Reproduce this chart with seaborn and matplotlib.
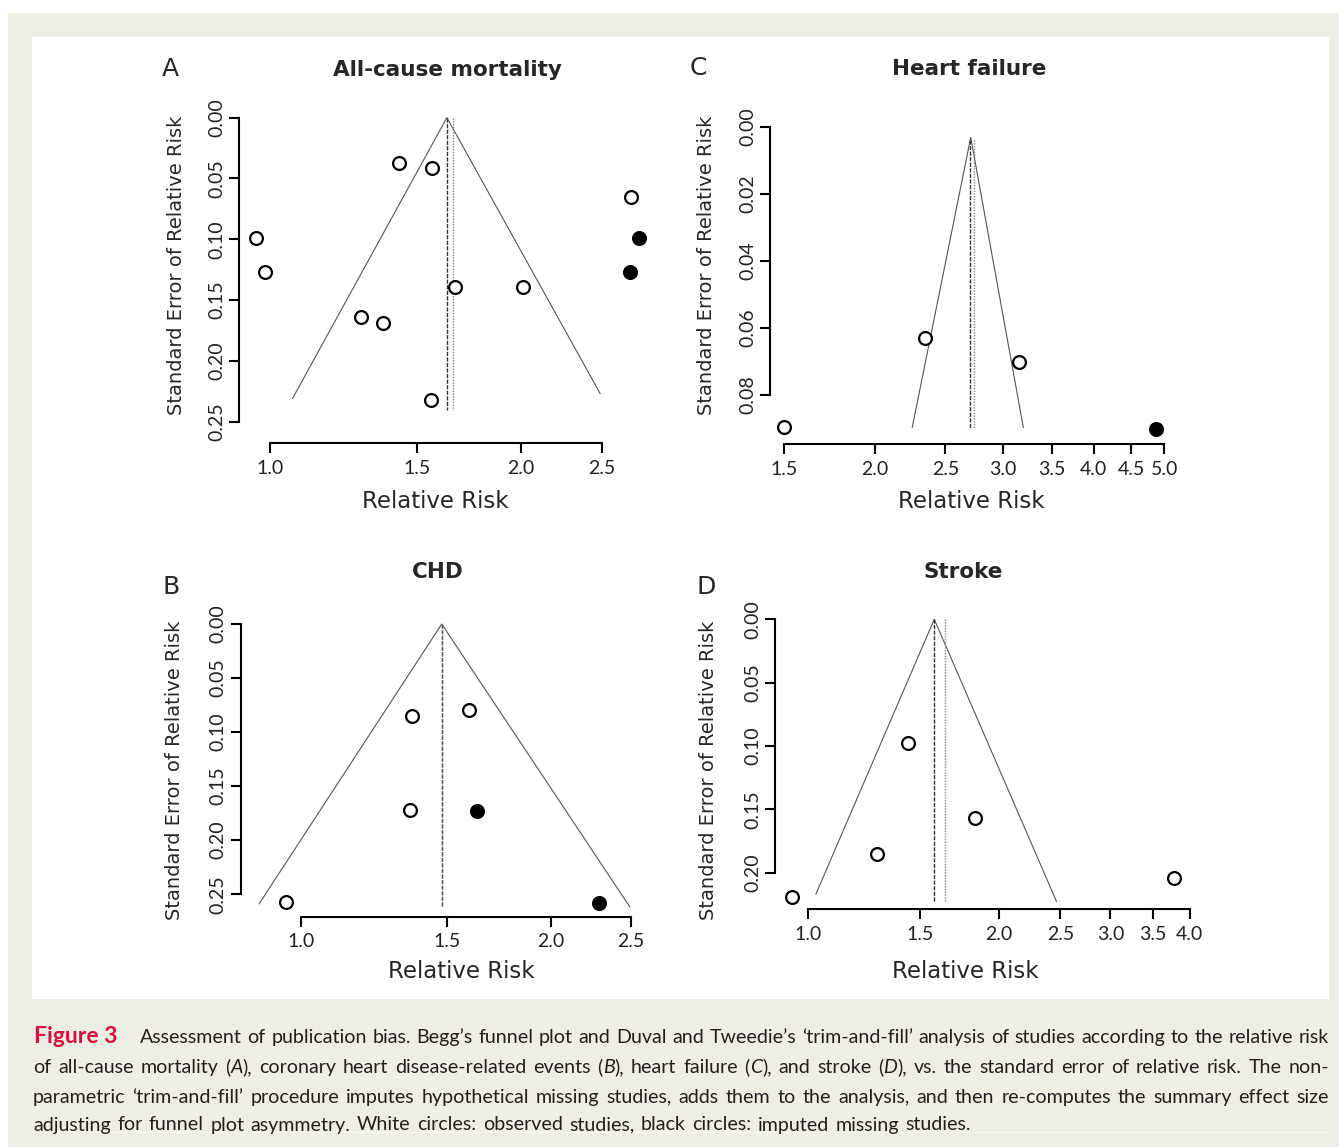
import numpy as np
import pandas as pd
import matplotlib
matplotlib.use("Agg")
import matplotlib.pyplot as plt
import seaborn as sns
from matplotlib import font_manager
from matplotlib.patches import Rectangle
from matplotlib.ticker import FixedLocator, FixedFormatter, NullLocator

# --- values (RR on log axis, SE of log RR) ---
# A: all-cause mortality
a_obs_rr = [1.43, 1.566, 2.71, 0.961, 0.985, 1.667, 2.013, 1.285, 1.366, 1.559]
a_obs_se = [0.037, 0.041, 0.065, 0.099, 0.127, 0.139, 0.139, 0.164, 0.169, 0.232]
a_imp_rr = [2.77, 2.70]
a_imp_se = [0.099, 0.127]
a_summary_rr = [1.63, 1.66]          # pooled estimate / trim-and-fill adjusted
a_summary_se = [0.0, 0.240]
a_funnel_rr = [1.064, 1.63, 2.49]
a_funnel_se = [0.231, 0.0, 0.227]
a_xticks = [1.0, 1.5, 2.0, 2.5]
a_yticks = [0.00, 0.05, 0.10, 0.15, 0.20, 0.25]

# B: CHD
b_obs_rr = [0.959, 1.362, 1.594, 1.354]
b_obs_se = [0.2574, 0.0848, 0.0796, 0.172]
b_imp_rr = [1.629, 2.29]
b_imp_se = [0.173, 0.2578]
b_summary_rr = [1.478, 1.478]
b_summary_se = [0.0, 0.261]
b_funnel_rr = [0.890, 1.478, 2.493]
b_funnel_se = [0.259, 0.0, 0.262]
b_xticks = [1.0, 1.5, 2.0, 2.5]
b_yticks = [0.00, 0.05, 0.10, 0.15, 0.20, 0.25]

# C: heart failure
c_obs_rr = [1.50, 2.344, 3.157]
c_obs_se = [0.0896, 0.0631, 0.0702]
c_imp_rr = [4.865]
c_imp_se = [0.0902]
c_summary_rr = [2.70, 2.735]
c_summary_se = [0.004, 0.0902]
c_funnel_rr = [2.251, 2.709, 3.20]
c_funnel_se = [0.0897, 0.0032, 0.0897]
c_xticks = [1.5, 2.0, 2.5, 3.0, 3.5, 4.0, 4.5, 5.0]
c_yticks = [0.00, 0.02, 0.04, 0.06, 0.08]

# D: stroke
d_obs_rr = [0.943, 1.438, 1.282, 1.835, 3.785]
d_obs_se = [0.219, 0.0979, 0.1855, 0.1566, 0.2045]
d_imp_rr = []
d_imp_se = []
d_summary_rr = [1.581, 1.644]
d_summary_se = [0.0, 0.223]
d_funnel_rr = [1.028, 1.581, 2.467]
d_funnel_se = [0.217, 0.0, 0.223]
d_xticks = [1.0, 1.5, 2.0, 2.5, 3.0, 3.5, 4.0]
d_yticks = [0.00, 0.05, 0.10, 0.15, 0.20]

titles = ["All-cause mortality", "CHD", "Heart failure", "Stroke"]
letters = ["A", "B", "C", "D"]

caption_lines = [
    "Assessment of publication bias. Begg\u2019s funnel plot and Duval and Tweedie\u2019s \u2018trim-and-fill\u2019 analysis of studies according to the relative risk",
    "of all-cause mortality (*A*), coronary heart disease-related events (*B*), heart failure (*C*), and stroke (*D*), vs. the standard error of relative risk. The non-",
    "parametric \u2018trim-and-fill\u2019 procedure imputes hypothetical missing studies, adds them to the analysis, and then re-computes the summary effect size",
    "adjusting for funnel plot asymmetry. White circles: observed studies, black circles: imputed missing studies.",
]

W, H = 1339, 1147
BEIGE = "#efeee5"

sns.set_style("ticks")
plt.rcParams["font.family"] = ["DejaVu Sans"]


def has_font(name):
    try:
        font_manager.findfont(name, fallback_to_default=False)
        return True
    except ValueError:
        return False


tick_font = "Liberation Sans Narrow" if has_font("Liberation Sans Narrow") else "Lato"
cap_font = "Lato"

fig = plt.figure(figsize=(W / 100, H / 100), dpi=100, facecolor="white")
fig.patches.append(Rectangle((8 / W, 0), 1, (H - 13) / H, transform=fig.transFigure,
                             facecolor=BEIGE, edgecolor="none", zorder=-3))
fig.patches.append(Rectangle((32 / W, 1 - 999 / H), (1329 - 32) / W, (999 - 37) / H,
                             transform=fig.transFigure, facecolor="white",
                             edgecolor="none", zorder=-2))


def px_rect(l, t, r, b):
    return [l / W, 1 - b / H, (r - l) / W, (b - t) / H]


def ftext(x, y, s, **kw):
    kw.setdefault("ha", "center")
    kw.setdefault("va", "center")
    return fig.text(x / W, 1 - y / H, s, **kw)


def funnel(rect, xlim, ylim, obs_rr, obs_se, imp_rr, imp_se, sum_rr, sum_se,
           fun_rr, fun_se, xticks, yticks):
    ax = fig.add_axes(px_rect(*rect))
    ax.set_facecolor("none")
    ax.set_xscale("log")

    # pseudo-confidence funnel and summary lines
    ax.plot(fun_rr, fun_se, color="#555555", lw=0.8, zorder=1)
    ax.plot([sum_rr[0]] * 2, sum_se, color="#333333", lw=1.0,
            linestyle=(0, (3, 1)), zorder=1)
    ax.plot([sum_rr[1]] * 2, sum_se, color="#808080", lw=1.0,
            linestyle=(0, (1, 1)), zorder=1)

    sns.scatterplot(x=obs_rr, y=obs_se, ax=ax, s=85, marker="o",
                    facecolor="white", edgecolor="black", linewidth=1.6,
                    zorder=3, clip_on=False)
    if len(imp_rr):
        sns.scatterplot(x=imp_rr, y=imp_se, ax=ax, s=85, marker="o",
                        facecolor="black", edgecolor="black", linewidth=1.6,
                        zorder=3, clip_on=False)

    ax.set_xlim(*xlim)
    ax.set_ylim(*ylim)
    ax.xaxis.set_major_locator(FixedLocator(xticks))
    ax.xaxis.set_major_formatter(FixedFormatter([f"{v:.1f}" for v in xticks]))
    ax.xaxis.set_minor_locator(NullLocator())
    ax.yaxis.set_major_locator(FixedLocator(yticks))
    ax.yaxis.set_major_formatter(FixedFormatter([f"{v:.2f}" for v in yticks]))
    ax.yaxis.set_minor_locator(NullLocator())

    for side in ["top", "right"]:
        ax.spines[side].set_visible(False)
    ax.spines["left"].set_bounds(yticks[0], yticks[-1])
    ax.spines["bottom"].set_bounds(xticks[0], xticks[-1])
    for side in ["left", "bottom"]:
        ax.spines[side].set_linewidth(1.5)
        ax.spines[side].set_color("black")

    ax.tick_params(direction="out", length=7, width=1.5, color="black",
                   labelsize=14, labelcolor="#222222", labelfontfamily=tick_font)
    ax.tick_params(axis="x", pad=5)
    ax.tick_params(axis="y", pad=3, labelrotation=90)
    for lbl in ax.get_yticklabels():
        lbl.set_va("center")
    ax.set_xlabel("")
    ax.set_ylabel("")
    return ax


funnel((239.3, 105, 655, 443), (0.9187, 2.8966), (0.2675, -0.0104),
       a_obs_rr, a_obs_se, a_imp_rr, a_imp_se, a_summary_rr, a_summary_se,
       a_funnel_rr, a_funnel_se, a_xticks, a_yticks)
funnel((240.7, 613, 645, 916.7), (0.8458, 2.599), (0.2708, -0.0102),
       b_obs_rr, b_obs_se, b_imp_rr, b_imp_se, b_summary_rr, b_summary_se,
       b_funnel_rr, b_funnel_se, b_xticks, b_yticks)
funnel((770, 115, 1171, 444), (1.435, 5.107), (0.0946, -0.0035),
       c_obs_rr, c_obs_se, c_imp_rr, c_imp_se, c_summary_rr, c_summary_se,
       c_funnel_rr, c_funnel_se, c_xticks, c_yticks)
funnel((775, 608, 1190, 909.3), (0.886, 4.007), (0.229, -0.0089),
       d_obs_rr, d_obs_se, d_imp_rr, d_imp_se, d_summary_rr, d_summary_se,
       d_funnel_rr, d_funnel_se, d_xticks, d_yticks)

# titles, panel letters and axis labels
title_pos = [(447, 70), (438, 572), (969, 69), (963, 572)]
letter_pos = [(170, 69), (171, 587), (698, 68), (706, 587)]
ylab_pos = [(176, 265), (175, 770), (707, 265), (708, 770)]
xlab_pos = [(435, 501), (461, 971), (971, 501), (965, 971)]
for i in range(4):
    ftext(*title_pos[i], titles[i], fontsize=15.5, fontweight="bold")
    ftext(*letter_pos[i], letters[i], fontsize=18)
    ftext(*ylab_pos[i], "Standard Error of Relative Risk", fontsize=14, rotation=90)
    ftext(*xlab_pos[i], "Relative Risk", fontsize=16.5)

# caption with justified lines
renderer = fig.canvas.get_renderer()
ftext(34, 1043.3, "Figure 3", ha="left", va="baseline", fontsize=16.5,
      fontweight="bold", color="#d3123f", family=cap_font)


def measure(s, size, style="normal"):
    t = fig.text(0, 0, s, fontsize=size, family=cap_font, fontstyle=style)
    w = t.get_window_extent(renderer).width
    t.remove()
    return w


cap_size = 13.4
starts = [140, 33, 33, 33]
targets = [1329 - 140, 1329 - 33, 1329 - 33]
natural = [measure(caption_lines[i].replace("*", ""), cap_size) for i in range(3)]
cap_size *= min(t / n for t, n in zip(targets, natural)) * 0.99

baselines = [1043.3, 1072.7, 1102.7, 1130.5]
gaps = []
for i, line in enumerate(caption_lines):
    words = []
    for token in line.split(" "):
        pieces = []
        for j, part in enumerate(token.split("*")):
            if not part:
                continue
            t = ftext(0, baselines[i], part, ha="left", va="baseline",
                      fontsize=cap_size, family=cap_font, color="#231f20",
                      fontstyle="italic" if j % 2 else "normal")
            pieces.append((t, t.get_window_extent(renderer).width))
        words.append(pieces)
    widths = [sum(w for _, w in p) for p in words]
    if i < 3:
        gap = (targets[i] - sum(widths)) / (len(words) - 1)
        gaps.append(gap)
    else:
        gap = float(np.mean(gaps))
    x = starts[i]
    for pieces, ww in zip(words, widths):
        for t, pw in pieces:
            t.set_x(x / W)
            x += pw
        x += gap

fig.add_artist(plt.Line2D([32 / W, 1329 / W], [1 - 1132 / H] * 2, color="#f8f7f2", lw=1))

fig.savefig("out.png", dpi=100, facecolor=fig.get_facecolor())
